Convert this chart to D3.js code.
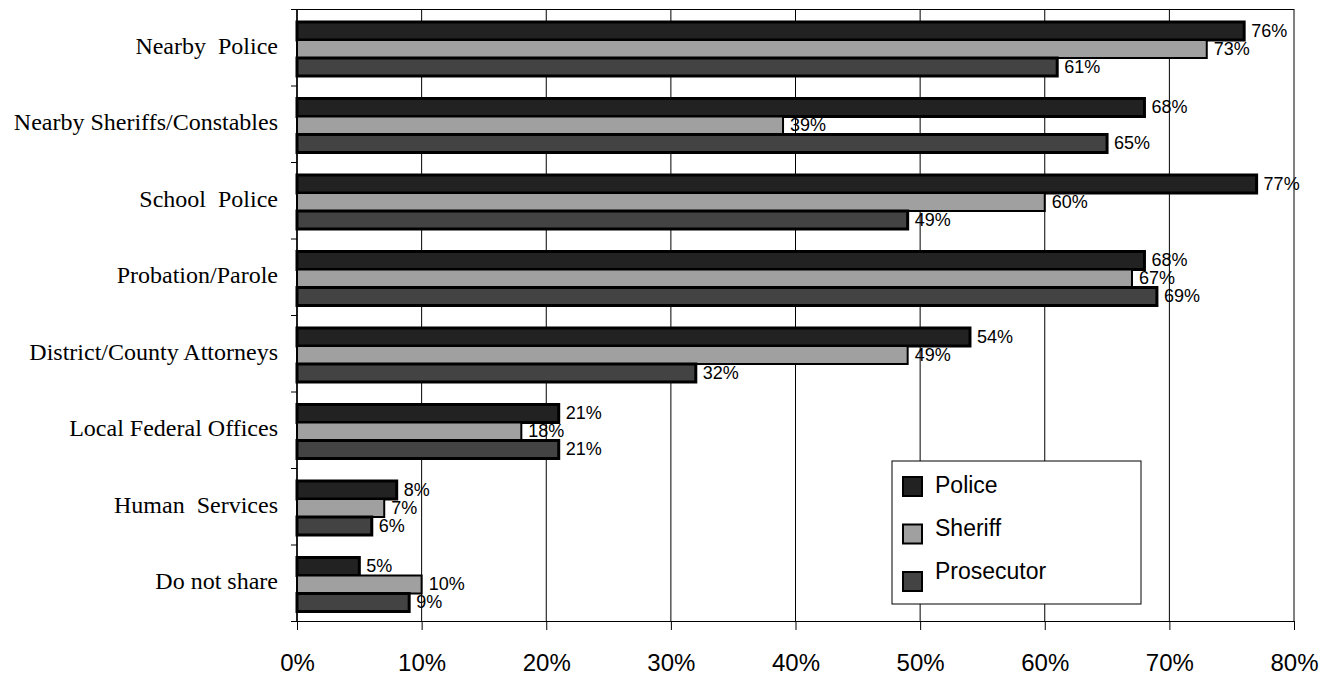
<!DOCTYPE html>
<html>
<head>
<meta charset="utf-8">
<script src="https://cdn.jsdelivr.net/npm/d3@7"></script>
<style>
  body { margin: 0; background: #fff; }
  text { white-space: pre; }
</style>
</head>
<body>
<div id="chart"></div>
<script>
var categories = ["Nearby  Police", "Nearby Sheriffs/Constables", "School  Police", "Probation/Parole",
                  "District/County Attorneys", "Local Federal Offices", "Human  Services", "Do not share"];
var seriesNames = ["Police", "Sheriff", "Prosecutor"];
var police     = [76, 68, 77, 68, 54, 21, 8, 5];
var sheriff    = [73, 39, 60, 67, 49, 18, 7, 10];
var prosecutor = [61, 65, 49, 69, 32, 21, 6, 9];
var xTicks = [0, 10, 20, 30, 40, 50, 60, 70, 80];

var colors = ["#222222", "#a0a0a0", "#434343"];
var seriesValues = [police, sheriff, prosecutor];

var width = 1343,
    height = 679;

var plotLeft = 297, plotRight = 1294, plotTop = 9, plotBottom = 621;

/* svg */
var svg = d3.select("#chart")
            .append("svg")
            .attr("width", width)
            .attr("height", height);

var x = d3.scaleLinear()
          .domain([0, 80])
          .range([plotLeft, plotRight]);

var y0 = d3.scaleBand()
           .domain(categories)
           .range([plotTop, plotBottom]);

var y1 = d3.scaleBand()
           .domain(seriesNames)
           .range([13, 67]);

/* gridlines */
svg.append("g")
   .selectAll("line")
   .data(xTicks)
   .enter().append("line")
   .attr("x1", function(d) { return x(d); })
   .attr("x2", function(d) { return x(d); })
   .attr("y1", plotTop)
   .attr("y2", plotBottom)
   .attr("stroke", "#000")
   .attr("stroke-width", 1);

/* top border */
svg.append("line")
   .attr("x1", plotLeft - 5).attr("x2", plotRight)
   .attr("y1", plotTop + 0.5).attr("y2", plotTop + 0.5)
   .attr("stroke", "#000");

/* bottom axis */
var xAxis = d3.axisBottom(x)
              .tickValues(xTicks)
              .tickSize(9)
              .tickPadding(24)
              .tickFormat(function(d) { return d + "%"; });

var gx = svg.append("g")
   .attr("transform", "translate(0," + plotBottom + ")")
   .call(xAxis);
gx.select(".domain").attr("d", "M" + (plotLeft - 6) + ",0.5H" + plotRight);
gx.selectAll("text")
  .attr("font-family", "Liberation Sans, Arial, sans-serif")
  .attr("font-size", 24)
  .attr("fill", "#000");

/* left axis */
var yAxis = d3.axisLeft(d3.scaleLinear().domain([0, categories.length]).range([plotTop, plotBottom]))
              .ticks(categories.length)
              .tickSize(6)
              .tickFormat("");
var gy = svg.append("g")
   .attr("transform", "translate(" + plotLeft + ",0)")
   .call(yAxis);
gy.select(".domain").remove();

svg.append("line")
   .attr("x1", plotLeft).attr("x2", plotLeft)
   .attr("y1", plotTop).attr("y2", plotBottom)
   .attr("stroke", "#000")
   .attr("stroke-width", 1.5);

/* category labels */
svg.append("g")
   .selectAll("text")
   .data(categories)
   .enter().append("text")
   .attr("x", 278)
   .attr("y", function(d) { return y0(d) + y0.bandwidth() / 2 + 1; })
   .attr("text-anchor", "end")
   .attr("dominant-baseline", "middle")
   .attr("font-family", "Liberation Serif, Times New Roman, serif")
   .attr("font-size", 24)
   .text(function(d) { return d; });

/* bars */
var rows = [];
categories.forEach(function(c, i) {
    seriesNames.forEach(function(s, j) {
        rows.push({ cat: c, series: s, value: seriesValues[j][i], color: colors[j] });
    });
});

svg.append("g")
   .selectAll("rect")
   .data(rows)
   .enter().append("rect")
   .attr("x", x(0))
   .attr("y", function(d) { return y0(d.cat) + y1(d.series); })
   .attr("width", function(d) { return x(d.value) - x(0); })
   .attr("height", y1.bandwidth())
   .attr("fill", function(d) { return d.color; })
   .attr("stroke", "#000")
   .attr("stroke-width", function(d) { return d.series === "Sheriff" ? 2 : 3; });

/* value labels */
svg.append("g")
   .selectAll("text")
   .data(rows)
   .enter().append("text")
   .attr("x", function(d) { return x(d.value) + 7; })
   .attr("y", function(d) { return y0(d.cat) + y1(d.series) + y1.bandwidth() / 2 + 1; })
   .attr("dominant-baseline", "middle")
   .attr("font-family", "Liberation Sans, Arial, sans-serif")
   .attr("font-size", 18)
   .text(function(d) { return d.value + "%"; });

/* legend */
var legend = svg.append("g")
   .attr("transform", "translate(892,461)");

legend.append("rect")
   .attr("width", 249)
   .attr("height", 143)
   .attr("fill", "#fff")
   .attr("stroke", "#000")
   .attr("stroke-width", 1);

var item = legend.selectAll(".item")
   .data(seriesNames)
   .enter().append("g")
   .attr("class", "item");

item.append("rect")
   .attr("x", 11)
   .attr("y", function(d, i) { return 16 + i * 47.5; })
   .attr("width", 19)
   .attr("height", 19)
   .attr("fill", function(d, i) { return colors[i]; })
   .attr("stroke", "#000")
   .attr("stroke-width", 2);

item.append("text")
   .attr("x", 43)
   .attr("y", function(d, i) { return 26 + i * 43; })
   .attr("dominant-baseline", "middle")
   .attr("font-family", "Liberation Sans, Arial, sans-serif")
   .attr("font-size", 23)
   .text(function(d) { return d; });
</script>
</body>
</html>
